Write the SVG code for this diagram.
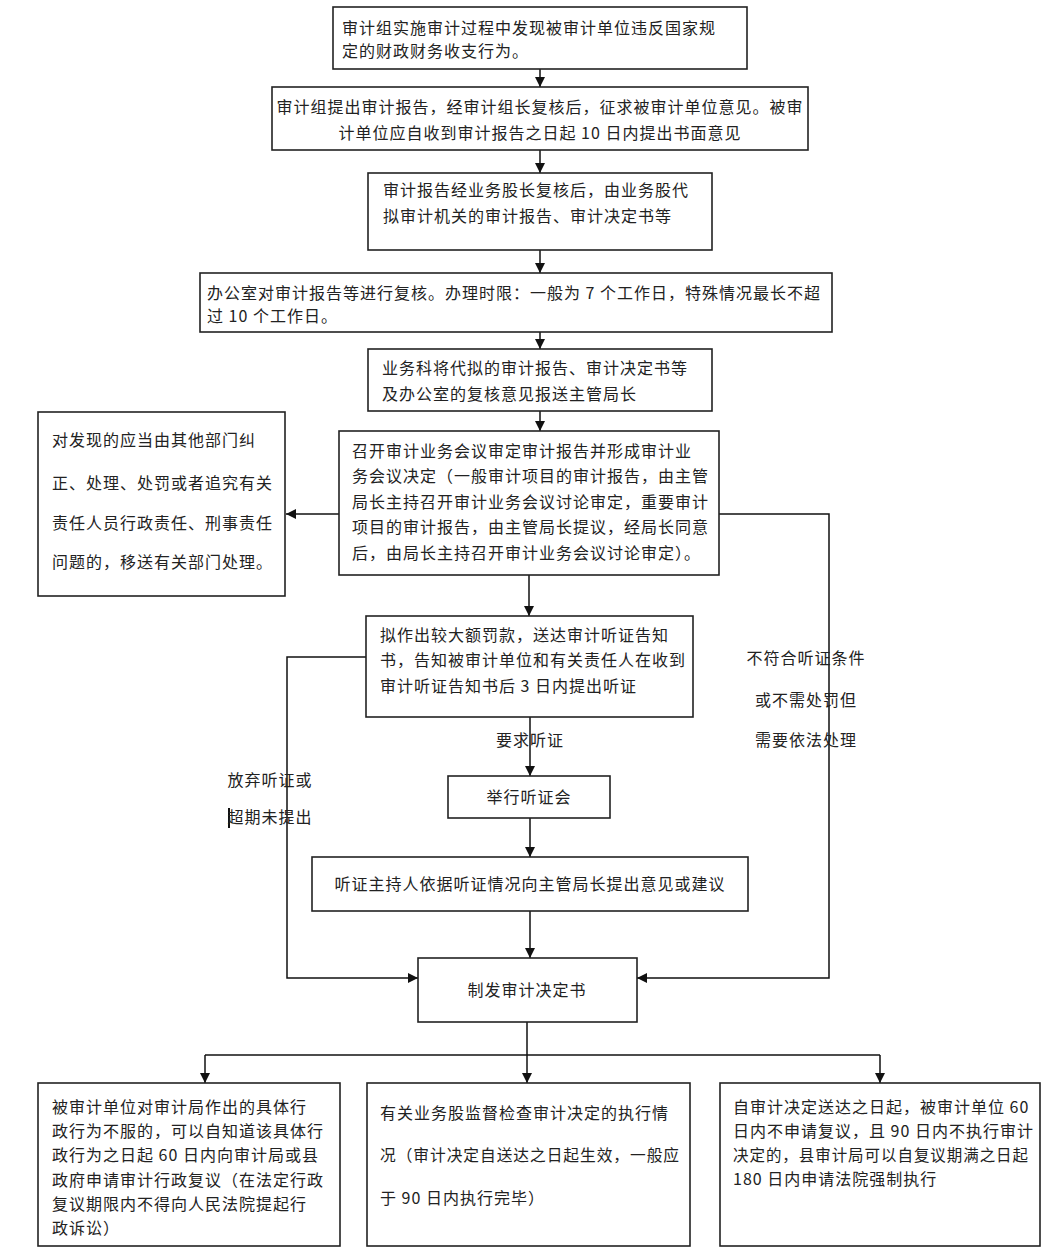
<svg xmlns="http://www.w3.org/2000/svg" width="1062" height="1257" viewBox="0 0 1062 1257">
<defs>
<marker id="ah" viewBox="0 0 10 10" refX="10" refY="5" markerWidth="10" markerHeight="10" markerUnits="userSpaceOnUse" orient="auto">
<path d="M0,0 L10,5 L0,10 z" fill="#111"/>
</marker>
</defs>
<style>
rect.n{fill:#fff;stroke:#222;stroke-width:1.6}
text{font-family:"Noto Sans CJK SC","Liberation Sans",sans-serif;font-size:16px;fill:#222;letter-spacing:1px}
.c{text-anchor:middle}
.e line,.e polyline{stroke:#111;stroke-width:1.5;fill:none}
.a{marker-end:url(#ah)}
</style>
<rect width="1062" height="1257" fill="#fff"/>
<g id="connectors" class="e">
<line class="a" x1="540" y1="69" x2="540" y2="87"/>
<line class="a" x1="540" y1="150" x2="540" y2="173"/>
<line class="a" x1="540" y1="250" x2="540" y2="273"/>
<line class="a" x1="540" y1="332" x2="540" y2="349"/>
<line class="a" x1="540" y1="411" x2="540" y2="431"/>
<line class="a" x1="339" y1="514" x2="286" y2="514"/>
<polyline class="a" points="719,514 829,514 829,978 637,978"/>
<line class="a" x1="529" y1="575" x2="529" y2="616"/>
<polyline class="a" points="366,657 287,657 287,978 418,978"/>
<line class="a" x1="530" y1="717" x2="530" y2="776"/>
<line class="a" x1="530" y1="818" x2="530" y2="857"/>
<line class="a" x1="530" y1="911" x2="530" y2="958"/>
<line x1="527" y1="1022" x2="527" y2="1055"/>
<line x1="205" y1="1055" x2="880" y2="1055"/>
<line class="a" x1="205" y1="1055" x2="205" y2="1083"/>
<line class="a" x1="527" y1="1055" x2="527" y2="1083"/>
<line class="a" x1="880" y1="1055" x2="880" y2="1083"/>
<line x1="229" y1="808" x2="229" y2="828" style="stroke-width:2"/>
</g>
<g id="label-hearing"><text x="530" y="746" class="c">要求听证</text></g>
<g id="label-right">
<text x="806" y="664" class="c">不符合听证条件</text>
<text x="806" y="706" class="c">或不需处罚但</text>
<text x="806" y="746" class="c">需要依法处理</text>
</g>
<g id="label-left">
<text x="270" y="786" class="c">放弃听证或</text>
<text x="270" y="823" class="c">超期未提出</text>
</g>
<g id="n1"><rect class="n" x="333" y="7" width="414" height="62"/>
<text x="342" y="34">审计组实施审计过程中发现被审计单位违反国家规</text>
<text x="342" y="57">定的财政财务收支行为。</text></g>
<g id="n2"><rect class="n" x="272" y="87" width="536" height="63"/>
<text x="540" y="113" class="c">审计组提出审计报告，经审计组长复核后，征求被审计单位意见。被审</text>
<text x="540" y="139" class="c">计单位应自收到审计报告之日起 10 日内提出书面意见</text></g>
<g id="n3"><rect class="n" x="368" y="173" width="344" height="77"/>
<text x="383" y="196">审计报告经业务股长复核后，由业务股代</text>
<text x="383" y="222">拟审计机关的审计报告、审计决定书等</text></g>
<g id="n4"><rect class="n" x="200" y="273" width="632" height="59"/>
<text x="207" y="299">办公室对审计报告等进行复核。办理时限：一般为 7 个工作日，特殊情况最长不超</text>
<text x="207" y="322">过 10 个工作日。</text></g>
<g id="n5"><rect class="n" x="368" y="349" width="344" height="62"/>
<text x="382" y="374">业务科将代拟的审计报告、审计决定书等</text>
<text x="382" y="400">及办公室的复核意见报送主管局长</text></g>
<g id="n6"><rect class="n" x="339" y="431" width="380" height="144"/>
<text x="352" y="457">召开审计业务会议审定审计报告并形成审计业</text>
<text x="352" y="482">务会议决定（一般审计项目的审计报告，由主管</text>
<text x="352" y="508">局长主持召开审计业务会议讨论审定，重要审计</text>
<text x="352" y="533">项目的审计报告，由主管局长提议，经局长同意</text>
<text x="352" y="559">后，由局长主持召开审计业务会议讨论审定）。</text></g>
<g id="n-transfer"><rect class="n" x="38" y="412" width="247" height="184"/>
<text x="52" y="446">对发现的应当由其他部门纠</text>
<text x="52" y="489">正、处理、处罚或者追究有关</text>
<text x="52" y="529">责任人员行政责任、刑事责任</text>
<text x="52" y="568">问题的，移送有关部门处理。</text></g>
<g id="n7"><rect class="n" x="366" y="616" width="327" height="101"/>
<text x="380" y="641">拟作出较大额罚款，送达审计听证告知</text>
<text x="380" y="666">书，告知被审计单位和有关责任人在收到</text>
<text x="380" y="692">审计听证告知书后 3 日内提出听证</text></g>
<g id="n8"><rect class="n" x="448" y="776" width="162" height="42"/>
<text x="529" y="803" class="c">举行听证会</text></g>
<g id="n9"><rect class="n" x="312" y="857" width="436" height="54"/>
<text x="530" y="890" class="c">听证主持人依据听证情况向主管局长提出意见或建议</text></g>
<g id="n10"><rect class="n" x="418" y="958" width="219" height="64"/>
<text x="527" y="996" class="c">制发审计决定书</text></g>
<g id="nA"><rect class="n" x="38" y="1083" width="302" height="163"/>
<text x="52" y="1113">被审计单位对审计局作出的具体行</text>
<text x="52" y="1137">政行为不服的，可以自知道该具体行</text>
<text x="52" y="1161">政行为之日起 60 日内向审计局或县</text>
<text x="52" y="1186">政府申请审计行政复议（在法定行政</text>
<text x="52" y="1210">复议期限内不得向人民法院提起行</text>
<text x="52" y="1234">政诉讼）</text></g>
<g id="nB"><rect class="n" x="367" y="1083" width="323" height="163"/>
<text x="380" y="1119">有关业务股监督检查审计决定的执行情</text>
<text x="380" y="1161" textLength="300" lengthAdjust="spacingAndGlyphs">况（审计决定自送达之日起生效，一般应</text>
<text x="380" y="1204">于 90 日内执行完毕）</text></g>
<g id="nC"><rect class="n" x="720" y="1083" width="320" height="163"/>
<text x="733" y="1113">自审计决定送达之日起，被审计单位 60</text>
<text x="733" y="1137">日内不申请复议，且 90 日内不执行审计</text>
<text x="733" y="1161" textLength="296" lengthAdjust="spacingAndGlyphs">决定的，县审计局可以自复议期满之日起</text>
<text x="733" y="1185">180 日内申请法院强制执行</text></g>
</svg>
